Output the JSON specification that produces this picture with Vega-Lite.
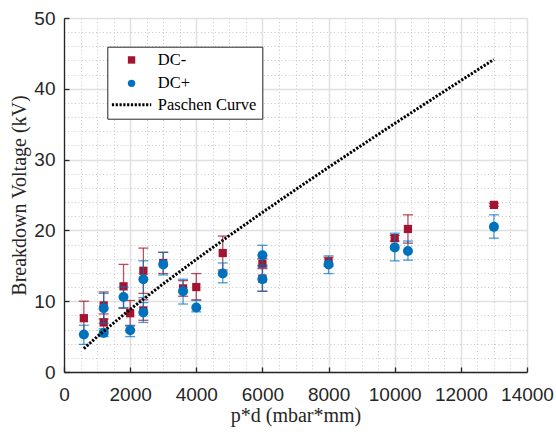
{
  "$schema": "https://vega.github.io/schema/vega-lite/v6.json",
  "width": 463,
  "height": 354,
  "autosize": {"type": "none"},
  "padding": {"left": 64, "top": 18, "right": 29, "bottom": 60},
  "background": "white",
  "datasets": {
    "pts": [
      {"s": "DC-", "pd": 600, "kv": 7.6, "lo": 5.3, "hi": 10.0},
      {"s": "DC-", "pd": 1200, "kv": 9.4, "lo": 7.5, "hi": 11.3},
      {"s": "DC-", "pd": 1200, "kv": 7.0, "lo": 5.8, "hi": 8.2},
      {"s": "DC-", "pd": 1800, "kv": 12.1, "lo": 9.0, "hi": 15.2},
      {"s": "DC-", "pd": 2000, "kv": 8.3, "lo": 6.5, "hi": 10.1},
      {"s": "DC-", "pd": 2400, "kv": 14.3, "lo": 11.1, "hi": 17.5},
      {"s": "DC-", "pd": 2400, "kv": 8.7, "lo": 7.3, "hi": 10.2},
      {"s": "DC-", "pd": 3000, "kv": 15.4, "lo": 13.9, "hi": 16.9},
      {"s": "DC-", "pd": 3600, "kv": 11.8, "lo": 10.7, "hi": 12.9},
      {"s": "DC-", "pd": 4000, "kv": 12.0, "lo": 10.2, "hi": 13.9},
      {"s": "DC-", "pd": 4800, "kv": 16.8, "lo": 14.4, "hi": 19.2},
      {"s": "DC-", "pd": 6000, "kv": 15.3, "lo": 14.6, "hi": 16.0},
      {"s": "DC-", "pd": 6000, "kv": 13.2, "lo": 11.4, "hi": 15.0},
      {"s": "DC-", "pd": 8000, "kv": 15.6, "lo": 15.0, "hi": 16.2},
      {"s": "DC-", "pd": 10000, "kv": 18.9, "lo": 18.5, "hi": 19.3},
      {"s": "DC-", "pd": 10400, "kv": 20.2, "lo": 18.2, "hi": 22.2},
      {"s": "DC-", "pd": 13000, "kv": 23.6, "lo": 23.4, "hi": 23.8},
      {"s": "DC+", "pd": 600, "kv": 5.3, "lo": 3.9, "hi": 6.6},
      {"s": "DC+", "pd": 1200, "kv": 9.0, "lo": 6.9, "hi": 11.1},
      {"s": "DC+", "pd": 1200, "kv": 5.5, "lo": 5.0, "hi": 6.1},
      {"s": "DC+", "pd": 1800, "kv": 10.6, "lo": 9.1, "hi": 12.0},
      {"s": "DC+", "pd": 2000, "kv": 5.9, "lo": 5.0, "hi": 6.6},
      {"s": "DC+", "pd": 2400, "kv": 13.1, "lo": 10.5, "hi": 15.7},
      {"s": "DC+", "pd": 2400, "kv": 8.4, "lo": 7.0, "hi": 9.8},
      {"s": "DC+", "pd": 3000, "kv": 15.2, "lo": 13.7, "hi": 16.9},
      {"s": "DC+", "pd": 3600, "kv": 11.4, "lo": 9.6, "hi": 13.1},
      {"s": "DC+", "pd": 4000, "kv": 9.1, "lo": 8.5, "hi": 10.1},
      {"s": "DC+", "pd": 4800, "kv": 13.9, "lo": 12.6, "hi": 15.4},
      {"s": "DC+", "pd": 6000, "kv": 16.5, "lo": 15.1, "hi": 17.9},
      {"s": "DC+", "pd": 6000, "kv": 13.1, "lo": 11.4, "hi": 14.8},
      {"s": "DC+", "pd": 8000, "kv": 15.2, "lo": 13.9, "hi": 16.4},
      {"s": "DC+", "pd": 10000, "kv": 17.6, "lo": 15.7, "hi": 19.6},
      {"s": "DC+", "pd": 10400, "kv": 17.1, "lo": 15.8, "hi": 18.5},
      {"s": "DC+", "pd": 13000, "kv": 20.5, "lo": 18.9, "hi": 22.2}
    ],
    "paschen": [
      {"pd": 600, "kv": 3.29},
      {"pd": 1000, "kv": 4.98},
      {"pd": 2000, "kv": 8.85},
      {"pd": 3000, "kv": 12.45},
      {"pd": 4000, "kv": 15.91},
      {"pd": 5000, "kv": 19.26},
      {"pd": 6000, "kv": 22.54},
      {"pd": 7000, "kv": 25.75},
      {"pd": 8000, "kv": 28.91},
      {"pd": 9000, "kv": 32.02},
      {"pd": 10000, "kv": 35.10},
      {"pd": 11000, "kv": 38.14},
      {"pd": 12000, "kv": 41.16},
      {"pd": 13000, "kv": 44.15}
    ]
  },
  "resolve": {"axis": {"x": "independent", "y": "independent"}},
  "layer": [
    {
      "data": {"name": "pts"},
      "transform": [{"filter": "datum.s === 'DC-'"}],
      "mark": {"type": "rule", "color": "#A2142F", "opacity": 0.75, "strokeWidth": 1.3},
      "encoding": {
        "x": {"field": "pd", "type": "quantitative", "scale": {"domain": [0, 14000], "nice": false, "zero": false},
          "axis": {"orient": "bottom", "values": [500, 1000, 1500, 2500, 3000, 3500, 4500, 5000, 5500, 6500, 7000, 7500, 8500, 9000, 9500, 10500, 11000, 11500, 12500, 13000, 13500],
            "grid": true, "gridDash": [1, 2.5], "gridColor": "#c8c8c8", "gridWidth": 1, "labels": false, "ticks": false, "domain": false, "title": null}},
        "y": {"field": "lo", "type": "quantitative", "scale": {"domain": [0, 50], "nice": false, "zero": false},
          "axis": {"orient": "left", "values": [2, 4, 6, 8, 12, 14, 16, 18, 22, 24, 26, 28, 32, 34, 36, 38, 42, 44, 46, 48],
            "grid": true, "gridDash": [1, 2.5], "gridColor": "#c8c8c8", "gridWidth": 1, "labels": false, "ticks": false, "domain": false, "title": null}},
        "y2": {"field": "hi"}
      }
    },
    {
      "data": {"name": "pts"},
      "transform": [{"filter": "datum.s === 'DC-'"}, {"fold": ["lo", "hi"], "as": ["k", "v"]}],
      "mark": {"type": "tick", "orient": "horizontal", "color": "#A2142F", "opacity": 0.75, "size": 10, "thickness": 1.3},
      "encoding": {
        "x": {"field": "pd", "type": "quantitative", "scale": {"domain": [0, 14000], "nice": false, "zero": false}, "axis": null},
        "y": {"field": "v", "type": "quantitative", "scale": {"domain": [0, 50], "nice": false, "zero": false}, "axis": null}
      }
    },
    {
      "data": {"name": "pts"},
      "transform": [{"filter": "datum.s === 'DC-'"}],
      "mark": {"type": "point", "filled": true, "size": 68, "opacity": 1, "strokeWidth": 2.8},
      "encoding": {
        "x": {"field": "pd", "type": "quantitative", "scale": {"domain": [0, 14000], "nice": false, "zero": false},
          "axis": {"orient": "bottom", "values": [0, 2000, 4000, 6000, 8000, 10000, 12000, 14000], "format": "d",
            "grid": true, "gridColor": "#e0e0e0", "gridWidth": 1.5,
            "domainColor": "#262626", "domainWidth": 1.3, "tickColor": "#262626", "tickSize": -5, "tickWidth": 1.3,
            "labelFont": "Liberation Sans", "labelFontSize": 19, "labelColor": "#262626", "labelPadding": 18, "labelFlush": false, "labelOverlap": false,
            "title": "p*d (mbar*mm)", "titleFont": "Liberation Serif", "titleFontSize": 20, "titleFontWeight": "normal", "titleColor": "#262626",
            "titleY": 49, "titleBaseline": "alphabetic"}},
        "y": {"field": "kv", "type": "quantitative", "scale": {"domain": [0, 50], "nice": false, "zero": false},
          "axis": {"orient": "left", "values": [0, 10, 20, 30, 40, 50],
            "grid": true, "gridColor": "#e0e0e0", "gridWidth": 1.5,
            "domainColor": "#262626", "domainWidth": 1.3, "tickColor": "#262626", "tickSize": -5, "tickWidth": 1.3,
            "labelFont": "Liberation Sans", "labelFontSize": 19, "labelColor": "#262626", "labelPadding": 14, "labelFlush": false, "labelOverlap": false,
            "title": "Breakdown Voltage (kV)", "titleFont": "Liberation Serif", "titleFontSize": 20, "titleFontWeight": "normal", "titleColor": "#262626",
            "titleX": -38.7, "titleBaseline": "alphabetic"}},
        "color": {"field": "s", "type": "nominal",
          "scale": {"domain": ["DC-", "DC+", "Paschen Curve"], "range": ["#A2142F", "#0072BD", "#000000"]},
          "legend": {
            "orient": "none", "legendX": 43.3, "legendY": 28.7, "direction": "vertical", "title": null,
            "padding": 5, "strokeColor": "#262626", "fillColor": "white",
            "labelFont": "Liberation Serif", "labelFontSize": 16.5, "labelColor": "#000000",
            "rowPadding": 3.4, "symbolSize": 55, "symbolStrokeWidth": 2.8, "symbolOpacity": 1, "symbolOffset": 11, "labelOffset": 18
          }},
        "shape": {"field": "s", "type": "nominal",
          "scale": {"domain": ["DC-", "DC+", "Paschen Curve"], "range": ["square", "circle", "M-5.3,0H5.3"]},
          "legend": {"title": null}},
        "stroke": {"field": "s", "type": "nominal",
          "scale": {"domain": ["DC-", "DC+", "Paschen Curve"], "range": ["transparent", "transparent", "#000000"]},
          "legend": {"title": null}},
        "strokeDash": {"field": "s", "type": "nominal",
          "scale": {"domain": ["DC-", "DC+", "Paschen Curve"], "range": [[1, 0], [1, 0], [2.2, 1.6]]},
          "legend": {"title": null}}
      }
    },
    {
      "data": {"name": "pts"},
      "transform": [{"filter": "datum.s === 'DC+'"}],
      "mark": {"type": "rule", "color": "#0072BD", "opacity": 0.7, "strokeWidth": 1.3},
      "encoding": {
        "x": {"field": "pd", "type": "quantitative", "scale": {"domain": [0, 14000], "nice": false, "zero": false}, "axis": null},
        "y": {"field": "lo", "type": "quantitative", "scale": {"domain": [0, 50], "nice": false, "zero": false}, "axis": null},
        "y2": {"field": "hi"}
      }
    },
    {
      "data": {"name": "pts"},
      "transform": [{"filter": "datum.s === 'DC+'"}, {"fold": ["lo", "hi"], "as": ["k", "v"]}],
      "mark": {"type": "tick", "orient": "horizontal", "color": "#0072BD", "opacity": 0.7, "size": 10, "thickness": 1.3},
      "encoding": {
        "x": {"field": "pd", "type": "quantitative", "scale": {"domain": [0, 14000], "nice": false, "zero": false}, "axis": null},
        "y": {"field": "v", "type": "quantitative", "scale": {"domain": [0, 50], "nice": false, "zero": false}, "axis": null}
      }
    },
    {
      "data": {"name": "pts"},
      "transform": [{"filter": "datum.s === 'DC+'"}],
      "mark": {"type": "point", "filled": true, "size": 100, "opacity": 1, "strokeWidth": 2.8},
      "encoding": {
        "x": {"field": "pd", "type": "quantitative", "scale": {"domain": [0, 14000], "nice": false, "zero": false}, "axis": null},
        "y": {"field": "kv", "type": "quantitative", "scale": {"domain": [0, 50], "nice": false, "zero": false}, "axis": null},
        "color": {"field": "s", "type": "nominal",
          "scale": {"domain": ["DC-", "DC+", "Paschen Curve"], "range": ["#A2142F", "#0072BD", "#000000"]},
          "legend": {
            "orient": "none", "legendX": 43.3, "legendY": 28.7, "direction": "vertical", "title": null,
            "padding": 5, "strokeColor": "#262626", "fillColor": "white",
            "labelFont": "Liberation Serif", "labelFontSize": 16.5, "labelColor": "#000000",
            "rowPadding": 3.4, "symbolSize": 55, "symbolStrokeWidth": 2.8, "symbolOpacity": 1, "symbolOffset": 11, "labelOffset": 18
          }},
        "shape": {"field": "s", "type": "nominal",
          "scale": {"domain": ["DC-", "DC+", "Paschen Curve"], "range": ["square", "circle", "M-5.3,0H5.3"]},
          "legend": {"title": null}},
        "stroke": {"field": "s", "type": "nominal",
          "scale": {"domain": ["DC-", "DC+", "Paschen Curve"], "range": ["transparent", "transparent", "#000000"]},
          "legend": {"title": null}},
        "strokeDash": {"field": "s", "type": "nominal",
          "scale": {"domain": ["DC-", "DC+", "Paschen Curve"], "range": [[1, 0], [1, 0], [2.2, 1.6]]},
          "legend": {"title": null}}
      }
    },
    {
      "data": {"name": "paschen"},
      "mark": {"type": "line", "color": "#000000", "strokeWidth": 3, "strokeDash": [2.2, 1.6], "strokeCap": "butt"},
      "encoding": {
        "x": {"field": "pd", "type": "quantitative", "scale": {"domain": [0, 14000], "nice": false, "zero": false}, "axis": null},
        "y": {"field": "kv", "type": "quantitative", "scale": {"domain": [0, 50], "nice": false, "zero": false}, "axis": null}
      }
    }
  ],
  "config": {"view": {"stroke": null}, "font": "Liberation Sans"}
}
